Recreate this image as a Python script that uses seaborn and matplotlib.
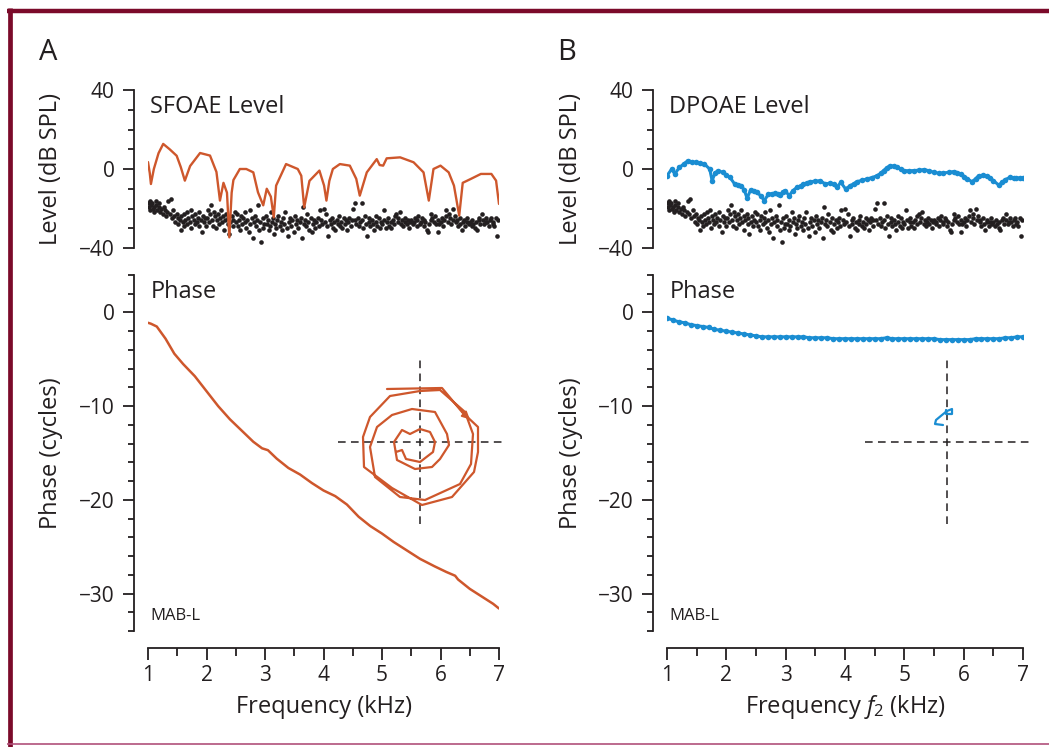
import matplotlib
matplotlib.use("Agg")
import matplotlib.pyplot as plt
from matplotlib.lines import Line2D
from matplotlib.ticker import FixedLocator, MultipleLocator
import seaborn as sns

# ---- data ------------------------------------------------------------------
sf_khz = [1.00, 1.03, 1.05, 1.10, 1.18, 1.26, 1.37, 1.49, 1.56, 1.63,
          1.72, 1.89, 2.06, 2.17, 2.23, 2.29, 2.35, 2.39, 2.43, 2.46,
          2.57, 2.68, 2.80, 2.88, 2.97, 3.03, 3.10, 3.15, 3.19, 3.36,
          3.56, 3.62, 3.67, 3.76, 3.93, 4.01, 4.05, 4.10, 4.16, 4.28,
          4.45, 4.56, 4.62, 4.74, 4.91, 4.96, 5.02, 5.08, 5.31, 5.54,
          5.71, 5.80, 5.88, 6.00, 6.14, 6.23, 6.32, 6.38, 6.52, 6.69,
          6.87, 6.95, 7.00]
sf_db = [3.5, -2, -7.6, 0, 8, 12.7, 10, 6.7, 1, -5.9,
         1.5, 8.1, 6.8, -1.5, -16, -7, -12, -34.6, -12, -5.6,
         0, 0, -1.7, -11.8, -18.4, -10, -14, -24.5, -8.4, 2.5,
         0, -3.4, -19.4, -6, -0.8, -8.4, -16, -6, 0, 2.5,
         1.7, -5, -13.5, -1.7, 5, 2, 1.7, 5.4, 5.9, 3.4,
         -1.7, -16, 0, 1.7, -1.7, -8.4, -23.6, -7, -5, -2.5,
         -2.5, -5.9, -17.7]

dp_khz = [1.00, 1.08, 1.13, 1.21, 1.28, 1.35, 1.42, 1.49, 1.56, 1.63,
          1.72, 1.76, 1.81, 1.86, 1.94, 2.00, 2.06, 2.14, 2.20, 2.25,
          2.30, 2.35, 2.41, 2.46, 2.51, 2.58, 2.64, 2.71, 2.77, 2.82,
          2.87, 2.91, 2.95, 2.99, 3.06, 3.12, 3.19, 3.25, 3.30, 3.36,
          3.41, 3.50, 3.58, 3.67, 3.74, 3.81, 3.86, 3.93, 4.01, 4.09,
          4.15, 4.20, 4.28, 4.37, 4.45, 4.54, 4.60, 4.65, 4.70, 4.76,
          4.82, 4.88, 4.94, 4.99, 5.08, 5.16, 5.25, 5.33, 5.42, 5.50,
          5.58, 5.66, 5.75, 5.83, 5.89, 5.95, 6.01, 6.06, 6.14, 6.20,
          6.25, 6.32, 6.39, 6.45, 6.50, 6.59, 6.65, 6.70, 6.78, 6.84,
          6.89, 6.95, 7.00]
dp_db = [-3.4, 0, -2.5, 0.8, 2.5, 4.2, 3.6, 3.4, 2.8, 2.5,
         0, -5.9, -2, -0.8, -1.7, -3, -4.2, -7.6, -7.9, -8.4,
         -10.5, -14.8, -10.5, -11, -11.8, -13.5, -16, -12.7, -12.5, -12.3,
         -12.8, -13, -11.5, -11, -13.5, -11, -9.3, -8.5, -7.6, -7,
         -6.4, -6.2, -5.9, -7.6, -7.2, -7.6, -9.3, -6.8, -10.1, -8.4,
         -7.4, -6.4, -5.8, -5, -4.4, -3.4, -2.2, -0.8, 0.6, 1.7,
         1.4, 0.8, 0, -0.8, -0.9, -0.8, -0.6, -0.3, -0.9, -1.7,
         -2.1, -2, -1.7, -1.3, -1.8, -2.5, -3.8, -5, -6.4, -5,
         -3.4, -3.2, -3.4, -4.6, -5.9, -8.1, -6.8, -5.4, -4.2, -4.4,
         -4.6, -4.5, -4.6]

noise_khz = [
    1.00, 1.01, 1.03, 1.04, 1.05, 1.07, 1.08, 1.10, 1.11, 1.13, 1.14, 1.16, 1.18, 1.19, 1.21,
    1.23, 1.25, 1.27, 1.29, 1.31, 1.33, 1.35, 1.37, 1.39, 1.41, 1.43, 1.45, 1.47, 1.49,
    1.51, 1.52, 1.54, 1.56, 1.57, 1.59, 1.61, 1.62, 1.64, 1.66, 1.67, 1.69, 1.71, 1.73, 1.74,
    1.76, 1.78, 1.80, 1.81, 1.83, 1.85, 1.87, 1.88, 1.90, 1.92, 1.94, 1.96, 1.98, 1.99,
    2.01, 2.03, 2.04, 2.06, 2.08, 2.09, 2.11, 2.13, 2.15, 2.16, 2.18, 2.20, 2.21, 2.23,
    2.25, 2.27, 2.29, 2.30, 2.32, 2.34, 2.36, 2.37, 2.39, 2.41, 2.43, 2.45, 2.46, 2.48,
    2.50, 2.52, 2.54, 2.56, 2.57, 2.59, 2.61, 2.63, 2.65, 2.66, 2.68, 2.70, 2.72, 2.74,
    2.75, 2.77, 2.79, 2.81, 2.83, 2.85, 2.86, 2.88, 2.90, 2.92, 2.94, 2.96, 2.97, 2.99,
    3.01, 3.03, 3.05, 3.06, 3.08, 3.10, 3.12, 3.14, 3.15, 3.17, 3.19, 3.21, 3.23,
    3.25, 3.27, 3.29, 3.31, 3.33, 3.35, 3.37, 3.39, 3.41, 3.43, 3.45, 3.47, 3.49,
    3.51, 3.53, 3.55, 3.57, 3.59, 3.61, 3.63, 3.65, 3.66, 3.68, 3.70, 3.72, 3.74,
    3.76, 3.78, 3.80, 3.82, 3.84, 3.86, 3.88, 3.90, 3.92, 3.94, 3.96, 3.98,
    4.00, 4.02, 4.05, 4.06, 4.08, 4.11, 4.12, 4.14, 4.17, 4.18, 4.20, 4.23, 4.24,
    4.26, 4.29, 4.30, 4.32, 4.35, 4.36, 4.38, 4.41, 4.42, 4.44, 4.47, 4.48,
    4.50, 4.53, 4.54, 4.56, 4.59, 4.60, 4.62, 4.65, 4.66, 4.68, 4.71, 4.72, 4.74,
    4.77, 4.78, 4.80, 4.83, 4.84, 4.86, 4.89, 4.90, 4.92, 4.95, 4.96, 4.98,
    5.00, 5.03, 5.04, 5.06, 5.09, 5.10, 5.12, 5.15, 5.16, 5.18, 5.21, 5.22, 5.24,
    5.27, 5.28, 5.30, 5.33, 5.34, 5.36, 5.39, 5.40, 5.42, 5.45, 5.46, 5.48,
    5.50, 5.53, 5.54, 5.56, 5.59, 5.60, 5.62, 5.65, 5.66, 5.68, 5.71, 5.72, 5.74,
    5.77, 5.78, 5.80, 5.83, 5.84, 5.86, 5.89, 5.90, 5.92, 5.95, 5.96, 5.98,
    6.00, 6.03, 6.04, 6.06, 6.09, 6.10, 6.12, 6.15, 6.16, 6.18, 6.21, 6.22, 6.24,
    6.27, 6.28, 6.30, 6.33, 6.34, 6.36, 6.39, 6.40, 6.42, 6.45, 6.46, 6.48,
    6.50, 6.53, 6.54, 6.56, 6.59, 6.60, 6.62, 6.65, 6.66, 6.68, 6.71, 6.72, 6.74,
    6.77, 6.78, 6.80, 6.83, 6.84, 6.86, 6.89, 6.90, 6.92, 6.95, 6.96, 6.98,
]
noise_db = [
    -17, -19, -16, -21, -18, -17, -20, -19, -22, -18, -16, -21, -19, -17, -22,
    -20, -23, -19, -21, -24, -22, -16, -23, -15, -25, -21, -24, -27, -23,
    -28, -25, -26, -31, -24, -27, -29, -23, -26, -28, -22, -25, -27, -21, -30,
    -24, -26, -28, -23, -27, -25, -22, -29, -26, -32, -24, -27, -25, -29,
    -25, -21, -27, -23, -18, -26, -29, -22, -24, -30, -26, -23, -28, -25,
    -21, -27, -24, -31, -26, -23, -28, -25, -33, -27, -24, -29, -26, -22,
    -27, -23, -29, -26, -31, -24, -28, -25, -27, -22, -30, -26, -32, -21,
    -28, -25, -35, -27, -24, -29, -26, -18, -31, -27, -37, -25, -30, -28,
    -24, -28, -26, -31, -29, -22, -27, -25, -33, -28, -30, -26, -24,
    -29, -27, -31, -25, -28, -22, -30, -34, -27, -25, -29, -26, -32,
    -24, -28, -26, -30, -27, -25, -35, -19, -28, -26, -29, -23, -27,
    -31, -25, -32, -28, -26, -30, -27, -25, -29, -21, -26, -28,
    -20, -27, -23, -29, -34, -26, -28, -25, -30, -27, -31, -26, -28,
    -24, -29, -27, -30, -25, -28, -26, -31, -27, -25, -29, -26,
    -20, -26, -17, -28, -25, -29, -27, -17, -26, -30, -24, -28, -34,
    -27, -25, -29, -26, -28, -31, -24, -27, -29, -25, -30, -27,
    -28, -21, -26, -30, -27, -25, -29, -27, -30, -26, -28, -24, -23,
    -27, -25, -22, -28, -26, -29, -27, -25, -28, -26, -30, -27,
    -26, -28, -27, -25, -29, -26, -24, -28, -27, -25, -26, -29, -27,
    -31, -32, -28, -26, -23, -25, -27, -24, -28, -26, -32, -28,
    -27, -25, -29, -26, -24, -21, -27, -23, -25, -28, -20, -26, -24,
    -27, -26, -29, -25, -28, -31, -27, -26, -29, -27, -25, -28,
    -27, -29, -26, -28, -30, -27, -31, -26, -25, -28, -23, -26, -28,
    -27, -25, -27, -29, -26, -25, -28, -27, -29, -25, -34, -26,
]

pha_khz = [1.00, 1.05, 1.15, 1.30, 1.45, 1.60, 1.80, 2.00, 2.20, 2.40,
           2.60, 2.80, 2.95, 3.05, 3.20, 3.40, 3.60, 3.80, 4.00, 4.20,
           4.40, 4.60, 4.80, 5.00, 5.20, 5.40, 5.65, 5.90, 6.10, 6.25,
           6.30, 6.50, 6.70, 6.90, 7.00]
pha_cyc = [-1.1, -1.2, -1.5, -2.8, -4.4, -5.5, -6.8, -8.4, -10.0, -11.4,
           -12.6, -13.8, -14.5, -14.7, -15.6, -16.6, -17.3, -18.2, -19.0, -19.6,
           -20.5, -21.8, -22.8, -23.6, -24.5, -25.3, -26.3, -27.1, -27.7, -28.1,
           -28.5, -29.5, -30.3, -31.1, -31.6]

phb_khz = [1.0, 1.1, 1.2, 1.3, 1.4, 1.5, 1.6, 1.7, 1.8, 1.9,
           2.0, 2.1, 2.2, 2.3, 2.4, 2.5, 2.6, 2.7, 2.8, 2.9,
           3.0, 3.1, 3.2, 3.3, 3.4, 3.5, 3.6, 3.7, 3.8, 3.9,
           4.0, 4.1, 4.2, 4.3, 4.4, 4.5, 4.6, 4.7, 4.8, 4.9,
           5.0, 5.1, 5.2, 5.3, 5.4, 5.5, 5.6, 5.7, 5.8, 5.9,
           6.0, 6.1, 6.2, 6.3, 6.4, 6.5, 6.6, 6.7, 6.8, 6.9, 7.0]
phb_cyc = [-0.6, -0.8, -1.0, -1.1, -1.3, -1.4, -1.5, -1.6, -1.8, -1.9,
           -2.0, -2.1, -2.2, -2.3, -2.4, -2.5, -2.6, -2.6, -2.6, -2.6,
           -2.6, -2.6, -2.6, -2.6, -2.7, -2.7, -2.7, -2.7, -2.8, -2.8,
           -2.8, -2.8, -2.8, -2.8, -2.8, -2.8, -2.8, -2.7, -2.8, -2.8,
           -2.8, -2.8, -2.8, -2.8, -2.8, -2.8, -2.9, -2.9, -2.9, -2.9,
           -2.9, -2.9, -2.8, -2.8, -2.8, -2.8, -2.8, -2.7, -2.7, -2.6, -2.6]

# complex-plane insets (arbitrary units, origin at the dashed cross)
spiral_re = [-33, 22, 42, 58, 58, 54, 32, 2, -28, -56, -57, -50,
             -30, 0, 20, 45, 53, 51, 40, 5, -20, -45, -50, -43,
             -28, -8, 15, 27, 29, 20, 12, -5, -23, -26,
             -18, -10, 0, 10, 15, 13, 0, -14, -18, -24]
spiral_im = [53, 54, 30, 15, -10, -30, -55, -63, -46, -25, 5, 25,
             46, 51, 52, 30, 8, -22, -42, -58, -55, -35, -5, 15,
             27, 33, 30, 8, -3, -17, -25, -27, -18, 0,
             12, 8, 13, 10, 0, -10, -20, -17, -8, -10]
loop_re = [-4, -12, -11, -5, 0, 5, 5, -1, -1]
loop_im = [17, 18, 22, 27, 31, 33, 28, 28, 32]

ORANGE = "#CE572C"
BLUE = "#1A8DD2"
INK = "#231F20"
MAROON = "#7B0A2A"

sns.set_theme(style="ticks")
plt.rcParams["font.family"] = ["Open Sans", "DejaVu Sans"]
plt.rcParams.update({
    "mathtext.fontset": "custom",
    "mathtext.rm": "Open Sans",
    "mathtext.it": "Open Sans:italic",
    "axes.edgecolor": INK,
    "xtick.color": INK,
    "ytick.color": INK,
    "text.color": INK,
    "axes.labelcolor": INK,
})

W, H = 1049, 747
fig = plt.figure(figsize=(W / 100, H / 100), dpi=100)


def rect(left, right, top, bottom):
    return [left / W, 1 - bottom / H, (right - left) / W, (bottom - top) / H]


def style_y(ax, major, minor_step, label, label_x):
    for s in ("top", "right"):
        ax.spines[s].set_visible(False)
    ax.spines["left"].set_position(("outward", 10))
    ax.spines["left"].set_linewidth(1.3)
    ax.yaxis.set_major_locator(FixedLocator(major))
    ax.yaxis.set_minor_locator(MultipleLocator(minor_step))
    ax.tick_params(axis="y", which="major", length=8, width=1.3, labelsize=15, pad=6)
    ax.tick_params(axis="y", which="minor", length=4.5, width=1.3)
    ax.set_ylabel(label, fontsize=17, rotation=90, va="center", ha="center")
    ax.yaxis.set_label_coords(label_x, 0.5)


def level_panel(ax, x, y, color, title, dotted, label_x):
    sns.scatterplot(x=noise_khz, y=noise_db, ax=ax, s=11, color=INK, linewidth=0)
    if dotted:
        sns.lineplot(x=x, y=y, ax=ax, color=color, lw=2.2, marker="o",
                     markersize=4, markeredgewidth=0, estimator=None, sort=False)
    else:
        sns.lineplot(x=x, y=y, ax=ax, color=color, lw=1.7, estimator=None, sort=False)
    ax.set_xlim(1, 7)
    ax.set_ylim(-40, 40)
    ax.spines["bottom"].set_visible(False)
    ax.set_xticks([])
    style_y(ax, [-40, 0, 40], 10, "Level (dB SPL)", label_x)
    ax.text(0.005, 0.89, title, transform=ax.transAxes, fontsize=17, va="center")


def phase_panel(ax, x, y, color, dotted, xlabel, label_x):
    if dotted:
        sns.lineplot(x=x, y=y, ax=ax, color=color, lw=2.2, marker="o",
                     markersize=4, markeredgewidth=0, estimator=None, sort=False)
    else:
        sns.lineplot(x=x, y=y, ax=ax, color=color, lw=1.8, estimator=None, sort=False)
    ax.set_xlim(1, 7)
    ax.set_ylim(-34, 4)
    style_y(ax, [-30, -20, -10, 0], 2, "Phase (cycles)", label_x)
    ax.spines["bottom"].set_position(("outward", 12))
    ax.spines["bottom"].set_linewidth(1.3)
    ax.xaxis.set_major_locator(FixedLocator([1, 2, 3, 4, 5, 6, 7]))
    ax.xaxis.set_minor_locator(MultipleLocator(0.5))
    ax.tick_params(axis="x", which="major", length=8.5, width=1.3, labelsize=15, pad=4)
    ax.tick_params(axis="x", which="minor", length=5.5, width=1.3)
    ax.set_xlabel(xlabel, fontsize=17, va="center")
    ax.xaxis.set_label_coords(0.5, -0.213)
    ax.text(0.008, 0.952, "Phase", transform=ax.transAxes, fontsize=17, va="center")
    ax.text(0.006, 0.042, "MAB-L", transform=ax.transAxes, fontsize=12, va="center")


def cross_inset(box, re, im, color, arrow):
    ax = fig.add_axes(box)
    ax.axhline(0, color=INK, lw=1.1, ls=(0, (5, 3.5)))
    ax.axvline(0, color=INK, lw=1.1, ls=(0, (5, 3.5)))
    sns.lineplot(x=re, y=im, ax=ax, color=color, lw=1.6, estimator=None, sort=False)
    if arrow:
        ax.annotate("", xy=(re[3], im[3]), xytext=(re[2], im[2]),
                    arrowprops=dict(arrowstyle="-|>", color=color, lw=1.4,
                                    mutation_scale=11, shrinkA=0, shrinkB=8))
    ax.set_xlim(-82, 82)
    ax.set_ylim(-82, 82)
    ax.axis("off")
    ax.patch.set_alpha(0)


ax_la = fig.add_axes(rect(148, 499, 90, 248))
level_panel(ax_la, sf_khz, sf_db, ORANGE, "SFOAE Level", False, -0.276)
ax_pa = fig.add_axes(rect(148, 499, 275, 631))
phase_panel(ax_pa, pha_khz, pha_cyc, ORANGE, False, "Frequency (kHz)", -0.276)
cross_inset(rect(338, 502, 360, 524), spiral_re, spiral_im, ORANGE, True)

ax_lb = fig.add_axes(rect(667, 1023, 90, 248))
level_panel(ax_lb, dp_khz, dp_db, BLUE, "DPOAE Level", True, -0.27)
ax_pb = fig.add_axes(rect(667, 1023, 275, 631))
phase_panel(ax_pb, phb_khz, phb_cyc, BLUE, True, r"Frequency $\mathit{f}_{2}$ (kHz)", -0.27)
cross_inset(rect(865, 1029, 360, 524), loop_re, loop_im, BLUE, False)

fig.text(39 / W, 1 - 53 / H, "A", fontsize=21, va="center", ha="left")
fig.text(557 / W, 1 - 53 / H, "B", fontsize=21, va="center", ha="left")

# frame of the figure page
fig.add_artist(Line2D([10 / W, 10 / W], [0, 1 - 8 / H], color=MAROON, lw=3.4,
                      transform=fig.transFigure, solid_capstyle="butt"))
fig.add_artist(Line2D([7 / W, 1], [1 - 10.5 / H, 1 - 10.5 / H], color=MAROON, lw=3.2,
                      transform=fig.transFigure, solid_capstyle="butt"))
fig.add_artist(Line2D([7 / W, 1], [1 - 744 / H, 1 - 744 / H], color="#B0507A", lw=1.2,
                      transform=fig.transFigure, solid_capstyle="butt"))

fig.savefig("out.png", dpi=100)
